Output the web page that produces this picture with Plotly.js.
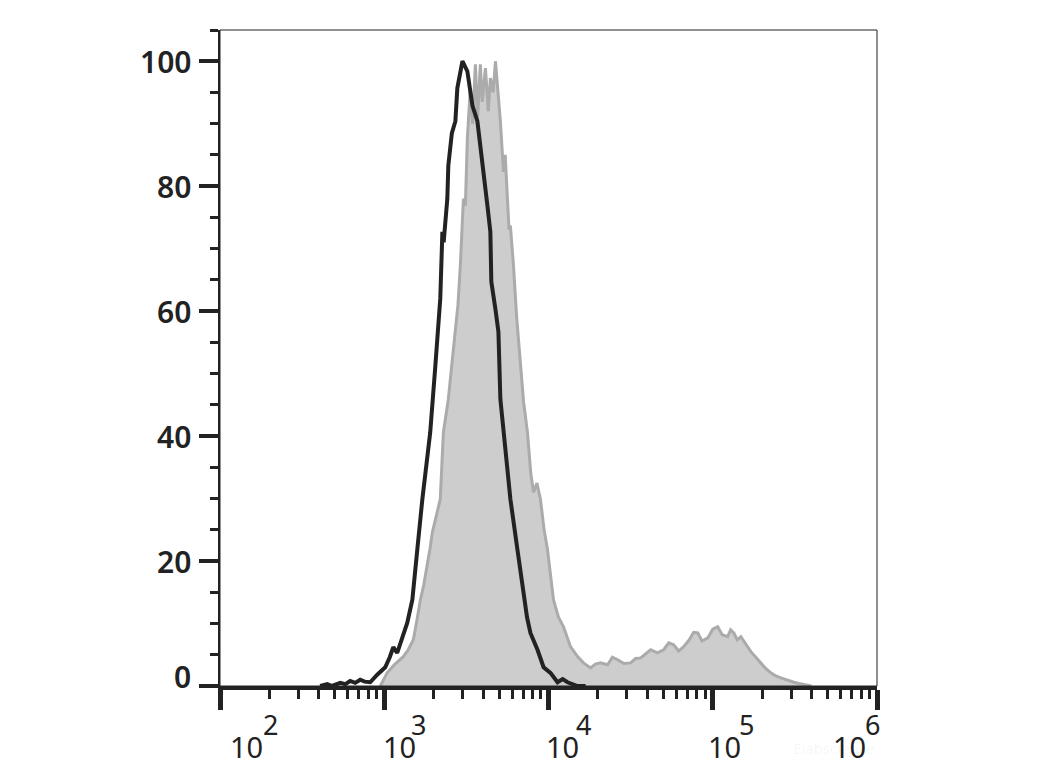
<!DOCTYPE html>
<html>
<head>
<meta charset="utf-8">
<script src="https://cdn.plot.ly/plotly-3.0.1.min.js"></script>
<style>
  html, body { margin: 0; padding: 0; background: #ffffff; }
  #chart { width: 1040px; height: 780px; }
</style>
</head>
<body>
<div id="chart"></div>
<script>
// Stained sample (gray filled histogram): fluorescence intensity vs % of max
const stainedX = [946, 1042, 1150, 1306, 1400, 1503, 1580, 1660, 1740, 1828, 1900, 1963, 2080, 2193, 2291, 2370, 2455, 2580, 2710, 2810, 2904, 3034, 3119, 3206, 3342, 3450, 3589, 3700, 3846, 3950, 4130, 4300, 4426, 4600, 4753, 4955, 5093, 5321, 5450, 5623, 5750, 5861, 6124, 6400, 6745, 7050, 7447, 7800, 8110, 8500, 8933, 9400, 9863, 10720, 11500, 12330, 13610, 15030, 16330, 18030, 19300, 20750, 22910, 24500, 26360, 28800, 31620, 33900, 36390, 39000, 41880, 46000, 50230, 54000, 57810, 62000, 66530, 72000, 76500, 81100, 86000, 93330, 100000, 107200, 114000, 123300, 128500, 134300, 141000, 148300, 158000, 170600, 183000, 196300, 210000, 225900, 242000, 260000, 285000, 311900, 335000, 358900, 398100];
const stainedY = [0, 2.1, 3.4, 4.7, 5.8, 7.4, 10.5, 13.8, 16.2, 19.1, 22.0, 24.6, 27.5, 29.9, 40.6, 43.0, 45.9, 51.5, 56.7, 61.0, 67.2, 78.0, 76.9, 87.6, 95.7, 90.0, 99.5, 91.0, 99.5, 93.5, 98.9, 92.0, 97.3, 95.0, 100, 94.0, 90.4, 82.3, 85.0, 78.0, 73.0, 73.7, 67.2, 59.0, 51.2, 45.5, 40.6, 34.0, 31.0, 32.5, 29.9, 25.0, 21.8, 13.8, 11.0, 9.5, 6.3, 4.7, 3.7, 2.9, 3.5, 3.7, 3.4, 4.6, 4.2, 3.6, 3.7, 4.4, 4.5, 5.2, 5.8, 5.3, 5.8, 6.9, 6.6, 5.6, 6.3, 7.4, 8.6, 8.5, 7.2, 7.7, 9.1, 9.5, 8.2, 7.9, 9.0, 8.5, 7.4, 7.9, 6.8, 5.5, 4.6, 3.7, 2.8, 2.1, 1.6, 1.3, 0.9, 0.6, 0.4, 0.2, 0];

// Control sample (black outline histogram)
const controlX = [407, 450, 480, 540, 580, 620, 665, 714, 760, 822, 906, 1014, 1080, 1135, 1199, 1252, 1380, 1483, 1545, 1589, 1706, 1800, 1905, 2046, 2193, 2259, 2300, 2421, 2455, 2580, 2710, 2786, 2992, 3206, 3443, 3690, 3846, 4246, 4426, 4487, 4753, 4955, 5093, 5470, 5861, 6471, 7047, 7400, 7762, 8200, 8570, 9333, 10280, 11350, 12200, 13060, 15030, 16830];
const controlY = [0, 0.3, 0, 0.5, 0.3, 0.8, 0.5, 1.0, 0.7, 0.6, 1.8, 3.0, 4.6, 6.2, 5.3, 6.9, 10.1, 13.8, 19.1, 21.8, 29.9, 35.5, 40.6, 51.2, 62.0, 72.7, 71.0, 78.0, 83.3, 88.5, 90.4, 95.7, 100, 98.4, 92.9, 90.4, 86.0, 76.9, 72.7, 64.7, 60.3, 56.7, 45.9, 37.9, 29.9, 21.8, 14.9, 11.0, 8.5, 7.0, 5.8, 3.0, 2.1, 0.6, 1.1, 0.6, 0, 0];

// Axis tick values and labels
const yTickVals = [0, 20, 40, 60, 80, 100];
const yTickText = ['0', '20', '40', '60', '80', '100'];
const xDecades = [2, 3, 4, 5, 6];           // log10 of 10^2 ... 10^6
const xBaseText = ['10', '10', '10', '10', '10'];
const xExpText = ['2', '3', '4', '5', '6'];

// label placement (style, not data)
const baseShift = [26, 15, 14, 12, -28];
const expShift = [50, 34, 35, 34, -5];
const yLabelShift = [10, 0, 0, 0, 0, 0];

const FONT = 'Noto Sans, DejaVu Sans, sans-serif';
const INK = '#222222';

const traces = [
  {
    x: stainedX, y: stainedY, type: 'scatter', mode: 'lines',
    fill: 'tozeroy', fillcolor: '#cdcdcd',
    line: { color: '#ababab', width: 3, shape: 'linear' },
    hoverinfo: 'skip', showlegend: false
  },
  {
    x: controlX, y: controlY, type: 'scatter', mode: 'lines',
    line: { color: INK, width: 4, shape: 'linear' },
    hoverinfo: 'skip', showlegend: false
  }
];

const annotations = [];
xDecades.forEach((d, i) => {
  annotations.push({
    x: d, xref: 'x', y: 0, yref: 'paper',
    text: xBaseText[i], showarrow: false,
    xanchor: 'center', yanchor: 'middle',
    xshift: baseShift[i], yshift: -60,
    font: { family: FONT, size: 29, color: INK, weight: 400 }
  });
  annotations.push({
    x: d, xref: 'x', y: 0, yref: 'paper',
    text: xExpText[i], showarrow: false,
    xanchor: 'center', yanchor: 'middle',
    xshift: expShift[i], yshift: -38,
    font: { family: FONT, size: 27, color: INK, weight: 400 }
  });
});
yTickVals.forEach((v, i) => {
  annotations.push({
    x: 0, xref: 'paper', y: v, yref: 'y',
    text: yTickText[i], showarrow: false,
    xanchor: 'right', yanchor: 'middle',
    xshift: -27, yshift: yLabelShift[i],
    font: { family: FONT, size: 30, color: INK, weight: 600 }
  });
});
annotations.push({
  x: 1, xref: 'paper', y: 0, yref: 'paper',
  text: 'Elabscience', showarrow: false,
  xanchor: 'right', yanchor: 'middle', xshift: 0, yshift: -62,
  font: { family: FONT, size: 15, color: 'rgba(0,0,0,0.05)' }
});

const layout = {
  width: 1040, height: 780,
  margin: { l: 220, r: 163, t: 30, b: 94 },
  paper_bgcolor: '#ffffff', plot_bgcolor: '#ffffff',
  showlegend: false,
  xaxis: {
    type: 'log', range: [2, 6], autorange: false,
    showgrid: false, zeroline: false,
    showline: true, linecolor: INK, linewidth: 4,
    ticks: 'outside', ticklen: 20, tickwidth: 5, tickcolor: INK,
    tickmode: 'array', tickvals: xDecades.map(d => Math.pow(10, d)),
    showticklabels: false,
    minor: { ticks: 'outside', ticklen: 9, tickwidth: 3, tickcolor: INK, dtick: 'D1', showgrid: false }
  },
  yaxis: {
    range: [0, 105], autorange: false,
    showgrid: false, zeroline: false,
    showline: true, linecolor: INK, linewidth: 2,
    ticks: 'outside', ticklen: 19, tickwidth: 4, tickcolor: INK,
    tickmode: 'array', tickvals: yTickVals,
    showticklabels: false,
    minor: { ticks: 'outside', ticklen: 8, tickwidth: 3, tickcolor: INK, dtick: 5, tick0: 0, showgrid: false }
  },
  shapes: [
    { type: 'rect', xref: 'paper', yref: 'paper', x0: 0, x1: 1, y0: 0, y1: 1,
      line: { color: INK, width: 1 }, fillcolor: 'rgba(0,0,0,0)', layer: 'above' }
  ],
  annotations: annotations
};

Plotly.newPlot('chart', traces, layout, { displayModeBar: false, staticPlot: true });
</script>
</body>
</html>
